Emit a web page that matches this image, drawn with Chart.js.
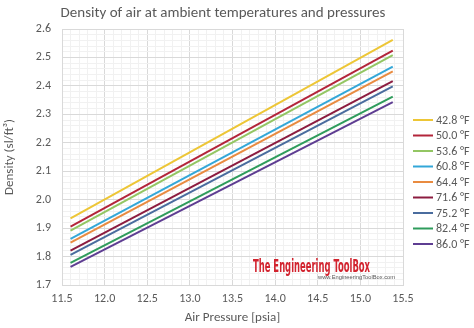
<!DOCTYPE html>
<html>
<head>
<meta charset="utf-8">
<script src="https://cdn.jsdelivr.net/npm/chart.js@4/dist/chart.umd.min.js"></script>
<style>
  html, body { margin: 0; padding: 0; background: #ffffff; }
  #wrap { width: 474px; height: 328px; }
</style>
</head>
<body>
<div id="wrap"><canvas id="c" width="474" height="328"></canvas></div>
<script>
// Air density (x10^-3 slug/ft^3) against absolute pressure, one line per temperature
const pressures = [11.6, 15.38];
const temperatures = ['42.8 °F', '50.0 °F', '53.6 °F', '60.8 °F', '64.4 °F', '71.6 °F', '75.2 °F', '82.4 °F', '86.0 °F'];
const d428 = [1.934, 2.562];
const d500 = [1.905, 2.524];
const d536 = [1.891, 2.508];
const d608 = [1.862, 2.468];
const d644 = [1.849, 2.451];
const d716 = [1.821, 2.417];
const d752 = [1.806, 2.398];
const d824 = [1.778, 2.362];
const d860 = [1.764, 2.343];
const xTicks = ['11.5', '12.0', '12.5', '13.0', '13.5', '14.0', '14.5', '15.0', '15.5'];
const yTicks = ['1.7', '1.8', '1.9', '2.0', '2.1', '2.2', '2.3', '2.4', '2.5', '2.6'];

const seriesValues = [d428, d500, d536, d608, d644, d716, d752, d824, d860];
const colors = ['#EDC636', '#B3253A', '#93C663', '#33A7D8', '#E98B40', '#8C1C40', '#4A6C9E', '#2F9C5C', '#5E3D92'];

const FONT = "Carlito, Calibri, Lato, 'Open Sans', sans-serif";
const TEXT = '#595959';

const datasets = seriesValues.map((vals, i) => ({
  label: temperatures[i],
  data: vals.map((v, j) => ({ x: pressures[j], y: v })),
  borderColor: colors[i],
  backgroundColor: colors[i],
  borderWidth: 2,
  pointRadius: 0,
  tension: 0,
  fill: false
}));

function isMajor(v, step) {
  const r = v / step;
  return Math.abs(r - Math.round(r)) < 1e-6;
}

const decorations = {
  id: 'decorations',
  afterDraw(chart) {
    const ctx = chart.ctx;
    ctx.save();
    // chart title
    ctx.fillStyle = TEXT;
    ctx.font = '15px ' + FONT;
    ctx.textAlign = 'center';
    ctx.textBaseline = 'middle';
    ctx.fillText('Density of air at ambient temperatures and pressures', 223, 13);

    // legend
    ctx.font = '12px ' + FONT;
    ctx.textAlign = 'left';
    chart.data.datasets.forEach((ds, i) => {
      const y = 120 + i * 15.5;
      ctx.strokeStyle = ds.borderColor;
      ctx.lineWidth = 2;
      ctx.beginPath();
      ctx.moveTo(413, y);
      ctx.lineTo(433, y);
      ctx.stroke();
      ctx.fillStyle = TEXT;
      ctx.fillText(ds.label, 436, y + 0.5);
    });

    // brand mark
    ctx.fillStyle = '#D2232E';
    ctx.font = "bold 18px 'DejaVu Sans Condensed', 'Liberation Sans Narrow', sans-serif";
    ctx.textBaseline = 'alphabetic';
    const brand = 'The Engineering ToolBox';
    const w = ctx.measureText(brand).width;
    ctx.save();
    ctx.translate(253, 272);
    ctx.scale(117 / w, 1);
    ctx.fillText(brand, 0, 0);
    ctx.restore();
    ctx.fillStyle = '#555555';
    ctx.font = "6px 'Liberation Sans', sans-serif";
    const url = 'www.EngineeringToolBox.com';
    const w2 = ctx.measureText(url).width;
    ctx.save();
    ctx.translate(318, 279);
    ctx.scale(77 / w2, 1);
    ctx.fillText(url, 0, 0);
    ctx.restore();
    ctx.restore();
  }
};

new Chart(document.getElementById('c'), {
  type: 'line',
  data: { datasets },
  options: {
    responsive: false,
    animation: false,
    layout: { padding: { top: 29, right: 71, bottom: 0, left: 0 } },
    plugins: {
      legend: { display: false },
      title: { display: false },
      tooltip: { enabled: false }
    },
    scales: {
      x: {
        type: 'linear',
        min: 11.5,
        max: 15.5,
        afterFit(scale) { scale.height = 43; },
        ticks: {
          stepSize: 0.1,
          autoSkip: false,
          maxRotation: 0,
          padding: 7,
          color: TEXT,
          font: { family: FONT, size: 12 },
          callback(v) {
            if (!isMajor(v, 0.5)) return '';
            const idx = Math.round((v - 11.5) / 0.5);
            return xTicks[idx];
          }
        },
        grid: {
          drawTicks: false,
          color(c) { return isMajor(c.tick.value, 0.5) ? '#D9D9D9' : '#F1F1F1'; }
        },
        border: { color: '#D9D9D9' },
        title: {
          display: true,
          text: 'Air Pressure [psia]',
          color: TEXT,
          font: { family: FONT, size: 13 },
          padding: { top: 0, bottom: 2 }
        }
      },
      y: {
        min: 1.7,
        max: 2.6,
        afterFit(scale) { scale.width = 62; },
        ticks: {
          stepSize: 0.02,
          autoSkip: false,
          padding: 11,
          color: TEXT,
          font: { family: FONT, size: 12 },
          callback(v) {
            if (!isMajor(v, 0.1)) return '';
            const idx = Math.round((v - 1.7) / 0.1);
            return yTicks[idx];
          }
        },
        grid: {
          drawTicks: false,
          color(c) { return isMajor(c.tick.value, 0.1) ? '#D9D9D9' : '#F1F1F1'; }
        },
        border: { color: '#D9D9D9' },
        title: {
          display: true,
          text: 'Density (sl/ft³)',
          color: TEXT,
          font: { family: FONT, size: 13 },
          padding: { top: 2, bottom: 0 }
        }
      }
    }
  },
  plugins: [decorations]
});
</script>
</body>
</html>
